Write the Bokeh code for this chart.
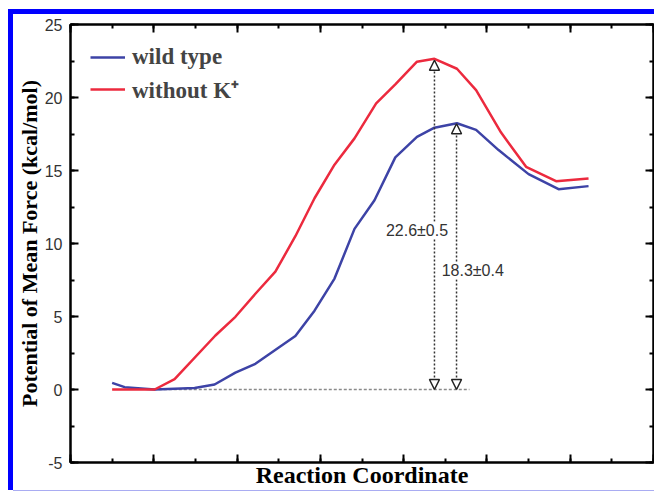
from bokeh.plotting import figure
from bokeh.models import (Range1d, LinearAxis, SingleIntervalTicker, Legend, LegendItem,
                          Label, Arrow, NormalHead, CustomJSTickFormatter)
from bokeh.embed import file_html
from bokeh.resources import INLINE

# ---------------- data ----------------
rc_wild = [0.50, 0.65, 1.01, 1.49, 1.73, 1.98, 2.22, 2.70, 2.93, 3.17, 3.41, 3.65,
           3.90, 4.16, 4.37, 4.64, 4.87, 5.14, 5.50, 5.86, 6.22]
pmf_wild = [0.45, 0.16, 0.0, 0.10, 0.34, 1.15, 1.76, 3.67, 5.40, 7.60, 11.0, 12.96,
            15.9, 17.3, 17.93, 18.24, 17.78, 16.4, 14.75, 13.72, 13.93]

rc_without = [0.50, 1.01, 1.25, 1.74, 1.98, 2.22, 2.46, 2.70, 2.93, 3.17, 3.41, 3.67,
              3.90, 4.16, 4.37, 4.64, 4.87, 5.17, 5.47, 5.83, 6.22]
pmf_without = [0.0, 0.0, 0.71, 3.70, 4.98, 6.56, 8.07, 10.5, 13.1, 15.4, 17.2, 19.6,
               20.9, 22.45, 22.65, 21.97, 20.5, 17.6, 15.25, 14.27, 14.45]

series_names = ["wild type", "without K\u207a"]
series_colors = ["#3d43a6", "#ec2a3e"]

barrier_x = [4.37, 4.635]
barrier_top = [22.55, 18.2]
barrier_text = ["22.6\u00b10.5", "18.3\u00b10.4"]
barrier_text_x = [4.16, 4.83]
barrier_text_y = [10.9, 8.14]

zero_line_x = [1.0, 4.79]
zero_line_y = [0.0, 0.0]

y_ticks_interval = 5
x_ticks_interval = 1
x_label = "Reaction Coordinate"
y_label = "Potential of Mean Force (kcal/mol)"

# ---------------- figure ----------------
p = figure(width=641, height=476, output_backend="svg", toolbar_location=None,
           x_range=Range1d(0, 7), y_range=Range1d(-5, 25),
           min_border_left=55, min_border_right=1, min_border_top=10, min_border_bottom=28,
           x_axis_location=None, y_axis_location=None)
p.styles = {"margin-top": "14px", "margin-left": "13px",
            "box-shadow": "0 -5px 0 0 #0000ff, -5px 0 0 0 #0000ff, "
                          "-5px -5px 0 0 #0000ff, 0 1px 0 0 #a9acf2"}
p.background_fill_color = "white"
p.border_fill_color = "white"
p.xgrid.visible = False
p.ygrid.visible = False
p.outline_line_color = "black"
p.outline_line_width = 2

empty = CustomJSTickFormatter(code="return ''")
plain = CustomJSTickFormatter(code="return tick.toString()")


def style_axis(ax, labels):
    ax.axis_line_color = "black"
    ax.axis_line_width = 2
    ax.major_tick_line_width = 2
    ax.minor_tick_line_width = 2
    ax.major_tick_in = 8
    ax.major_tick_out = 0
    ax.minor_tick_in = 4
    ax.minor_tick_out = 0
    if labels:
        ax.formatter = plain
        ax.major_label_text_font = "Liberation Sans"
        ax.major_label_text_font_size = "16px"
        ax.major_label_text_color = "#333333"
        ax.major_label_standoff = 8
    else:
        ax.formatter = empty
        ax.major_label_text_font_size = "0px"
        ax.major_label_standoff = 0


left = LinearAxis(ticker=SingleIntervalTicker(interval=y_ticks_interval, num_minor_ticks=2))
style_axis(left, True)
left.axis_label = y_label
left.axis_label_text_font = "Liberation Serif"
left.axis_label_text_font_style = "bold"
left.axis_label_text_font_size = "22px"
left.axis_label_text_color = "black"
left.axis_label_standoff = 0
p.add_layout(left, "left")

right = LinearAxis(ticker=SingleIntervalTicker(interval=y_ticks_interval, num_minor_ticks=2))
style_axis(right, False)
p.add_layout(right, "right")

bottom = LinearAxis(ticker=SingleIntervalTicker(interval=x_ticks_interval, num_minor_ticks=2))
style_axis(bottom, False)
bottom.axis_label = x_label
bottom.axis_label_text_font = "Liberation Serif"
bottom.axis_label_text_font_style = "bold"
bottom.axis_label_text_font_size = "24px"
bottom.axis_label_text_color = "black"
bottom.axis_label_standoff = -1
p.add_layout(bottom, "below")

top = LinearAxis(ticker=SingleIntervalTicker(interval=x_ticks_interval, num_minor_ticks=2))
style_axis(top, False)
p.add_layout(top, "above")

# zero reference line
p.line(zero_line_x, zero_line_y, line_color="#8a8a8a", line_width=1.5, line_dash="3 2")

# curves
r_wild = p.line(rc_wild, pmf_wild, line_color=series_colors[0], line_width=2.5)
r_without = p.line(rc_without, pmf_without, line_color=series_colors[1], line_width=2.5)

# barrier arrows
for bx, bt in zip(barrier_x, barrier_top):
    p.add_layout(Arrow(x_start=bx, y_start=0, x_end=bx, y_end=bt,
                       line_color="#333333", line_width=1.5, line_dash="2 2",
                       start=NormalHead(size=10, fill_color="white", line_color="#222222", line_width=1.5),
                       end=NormalHead(size=10, fill_color="white", line_color="#222222", line_width=1.5)))

for tx, ty, tt in zip(barrier_text_x, barrier_text_y, barrier_text):
    p.add_layout(Label(x=tx, y=ty, text=tt, text_align="center", text_baseline="middle",
                       text_font="Liberation Sans", text_font_size="16px", text_color="#333333",
                       background_fill_color="white"))

legend = Legend(items=[LegendItem(label=series_names[0], renderers=[r_wild]),
                       LegendItem(label=series_names[1], renderers=[r_without])],
                location="top_left")
legend.margin = 20
legend.padding = 0
legend.spacing = 3
legend.glyph_width = 35
legend.label_standoff = 7
legend.label_text_font = "Liberation Serif"
legend.label_text_font_style = "bold"
legend.label_text_font_size = "23px"
legend.border_line_color = None
legend.background_fill_alpha = 0
p.add_layout(legend)

open("out.html", "w").write(file_html(p, INLINE))
